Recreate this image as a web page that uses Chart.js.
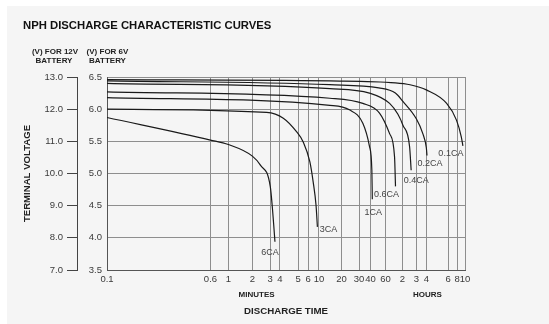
<!DOCTYPE html>
<html>
<head>
<meta charset="utf-8">
<title>NPH discharge characteristic curves</title>
<script src="https://cdn.jsdelivr.net/npm/chart.js@4.4.1/dist/chart.umd.min.js"></script>
<style>
  html, body { margin: 0; padding: 0; background: #fff; }
  canvas { display: block; }
</style>
</head>
<body>
<canvas id="nph" width="549" height="324"></canvas>
<script>
// discharge time ticks (minutes) and the labels printed under them
const TIME_TICKS = [0.1, 0.6, 1, 2, 3, 4, 5, 6, 10, 20, 30, 40, 60, 120, 180, 240, 360, 480, 600];
const TIME_LABELS = ['0.1', '0.6', '1', '2', '3', '4', '5', '6', '10', '20', '30', '40', '60', '2', '3', '4', '6', '8', '10'];

// terminal voltage ranges, 6V and 12V battery
const V6_RANGE = [3.5, 6.5];
const V12_RANGE = [7.0, 13.0];

const SERIES_NAMES = ['0.1CA', '0.2CA', '0.4CA', '0.6CA', '1CA', '3CA', '6CA'];

// time in minutes / voltage of a 6V battery
const T_01CA = [0.1, 14, 90, 150, 240, 350, 470, 540, 565];
const V_01CA = [6.46, 6.44, 6.41, 6.38, 6.30, 6.09, 5.83, 5.57, 5.43];
const T_02CA = [0.1, 14, 50, 90, 122, 180, 217, 240, 243];
const V_02CA = [6.44, 6.38, 6.33, 6.25, 6.12, 5.85, 5.62, 5.40, 5.28];
const T_04CA = [0.1, 14, 39, 71, 100, 122, 148, 155];
const V_04CA = [6.40, 6.32, 6.25, 6.09, 5.92, 5.75, 5.42, 5.05];
const T_06CA = [0.1, 14, 33, 51, 71, 87, 90.5];
const V_06CA = [6.27, 6.17, 6.09, 5.94, 5.62, 5.26, 4.80];
const T_1CA = [0.1, 14, 24, 33, 39, 41.5, 42];
const V_1CA = [6.18, 6.06, 5.99, 5.78, 5.42, 5.05, 4.60];
const T_3CA = [0.1, 2.76, 4.17, 4.9, 5.48, 6.5, 7.6, 8.7, 9.3];
const V_3CA = [6.00, 5.95, 5.86, 5.65, 5.49, 5.18, 4.87, 4.51, 4.17];
const T_6CA = [0.1, 0.6, 1, 2, 2.4, 3.0, 3.2, 3.35, 3.45];
const V_6CA = [5.87, 5.52, 5.45, 5.27, 5.13, 4.80, 4.46, 4.15, 3.94];

const SERIES_T = [T_01CA, T_02CA, T_04CA, T_06CA, T_1CA, T_3CA, T_6CA];
const SERIES_V = [V_01CA, V_02CA, V_04CA, V_06CA, V_1CA, V_3CA, V_6CA];

// where each curve name sits relative to the curve's last point (px)
const LABEL_OFFSETS = [[-12, 8], [3, 8], [5, 10], [-9, 8], [1, 13], [11, 3], [-5, 11]];

const FONT = "'Liberation Sans', Arial, Helvetica, sans-serif";
Chart.defaults.font.family = FONT;
Chart.defaults.color = '#3a3a3a';

// The printed time axis is hand made, not a true log axis: every tick has its
// own place along the axis, and values in between are log interpolated.
const TIME_AXIS_STOPS = [0, .289, .339, .406, .456, .483, .534, .562, .592, .655,
  .704, .736, .778, .825, .864, .892, .953, .978, 1];

class DischargeTimeScale extends Chart.LinearScale {
  determineDataLimits() {
    this.min = TIME_TICKS[0];
    this.max = TIME_TICKS[TIME_TICKS.length - 1];
  }
  buildTicks() {
    return TIME_TICKS.map(value => ({ value }));
  }
  getPixelForValue(value) {
    const n = TIME_TICKS.length;
    let f;
    if (value <= TIME_TICKS[0]) f = 0;
    else if (value >= TIME_TICKS[n - 1]) f = 1;
    else {
      let i = 0;
      while (value > TIME_TICKS[i + 1]) i++;
      const a = TIME_TICKS[i], b = TIME_TICKS[i + 1];
      const k = Math.log(value / a) / Math.log(b / a);
      f = TIME_AXIS_STOPS[i] + (TIME_AXIS_STOPS[i + 1] - TIME_AXIS_STOPS[i]) * k;
    }
    return this.getPixelForDecimal(f);
  }
  getValueForPixel(pixel) {
    const f = this.getDecimalForPixel(pixel);
    let i = 0;
    while (i < TIME_AXIS_STOPS.length - 2 && f > TIME_AXIS_STOPS[i + 1]) i++;
    const a = TIME_TICKS[i], b = TIME_TICKS[i + 1];
    const k = (f - TIME_AXIS_STOPS[i]) / (TIME_AXIS_STOPS[i + 1] - TIME_AXIS_STOPS[i]);
    return a * Math.pow(b / a, k);
  }
}
DischargeTimeScale.id = 'dischargeTime';
DischargeTimeScale.defaults = {};
Chart.register(DischargeTimeScale);

// background panel and the loose texts around the grid
const paperPlugin = {
  id: 'paper',
  beforeDraw(chart) {
    const ctx = chart.ctx;
    ctx.save();
    ctx.fillStyle = '#ffffff';
    ctx.fillRect(0, 0, chart.width, chart.height);
    ctx.fillStyle = '#f5f5f5';
    ctx.fillRect(7, 6, chart.width - 7, chart.height - 6);
    ctx.restore();
  },
  afterDraw(chart) {
    const ctx = chart.ctx;
    const x = chart.scales.x;
    ctx.save();
    ctx.fillStyle = '#111';
    ctx.textBaseline = 'middle';
    ctx.textAlign = 'left';
    ctx.font = 'bold 11.3px ' + FONT;
    ctx.fillText('NPH DISCHARGE CHARACTERISTIC CURVES', 23, 26);

    ctx.fillStyle = '#222';
    ctx.textAlign = 'center';
    ctx.font = 'bold 8px ' + FONT;
    ctx.fillText('(V) FOR 12V', 55, 52);
    ctx.fillText('BATTERY', 54, 61);
    ctx.fillText('(V) FOR 6V', 107.5, 52);
    ctx.fillText('BATTERY', 107.5, 61);
    ctx.fillText('MINUTES', x.getPixelForValue(2.2), 295);
    ctx.fillText('HOURS', x.getPixelForValue(245), 295);

    ctx.fillStyle = '#444';
    ctx.font = '9px ' + FONT;
    chart.data.datasets.forEach((ds, i) => {
      const pts = chart.getDatasetMeta(i).data;
      const end = pts[pts.length - 1];
      ctx.fillText(ds.label, end.x + LABEL_OFFSETS[i][0], end.y + LABEL_OFFSETS[i][1]);
    });
    ctx.restore();
  }
};

const datasets = SERIES_NAMES.map((name, i) => ({
  label: name,
  data: SERIES_T[i].map((t, j) => ({ x: t, y: SERIES_V[i][j] })),
  yAxisID: 'y',
  borderColor: '#1a1a1a',
  borderWidth: 1.2,
  pointRadius: 0,
  fill: false,
  cubicInterpolationMode: 'monotone'
}));

new Chart(document.getElementById('nph'), {
  type: 'line',
  data: { datasets },
  options: {
    responsive: false,
    animation: false,
    devicePixelRatio: 1,
    layout: { padding: { left: 20, right: 84, top: 77, bottom: 0 } },
    plugins: { legend: { display: false }, tooltip: { enabled: false }, title: { display: false } },
    scales: {
      x: {
        type: 'dischargeTime',
        position: 'bottom',
        grid: { color: '#8e8e8e', lineWidth: 1, drawTicks: false },
        border: { display: true, color: '#555', width: 1 },
        ticks: {
          autoSkip: false,
          maxRotation: 0,
          padding: 4,
          font: { size: 9.5 },
          callback: (v, i) => TIME_LABELS[i]
        },
        title: {
          display: true,
          text: 'DISCHARGE TIME',
          color: '#222',
          font: { size: 9.7, weight: 'bold' },
          padding: { top: 0, bottom: 6.6 }
        },
        afterFit: s => { s.height = 54; }
      },
      y: {
        position: 'left',
        weight: 0,
        min: V6_RANGE[0],
        max: V6_RANGE[1],
        grid: { color: '#8e8e8e', lineWidth: 1, drawTicks: false },
        border: { display: true, color: '#555', width: 1 },
        ticks: {
          stepSize: 0.5,
          padding: 5,
          font: { size: 9.5 },
          callback: v => v.toFixed(1)
        },
        afterFit: s => { s.width = 30; }
      },
      y12: {
        position: 'left',
        weight: 1,
        min: V12_RANGE[0],
        max: V12_RANGE[1],
        grid: { drawOnChartArea: false, drawTicks: true, tickLength: 10, color: '#444', lineWidth: 1 },
        border: { display: true, color: '#444', width: 1 },
        ticks: {
          stepSize: 1,
          padding: 4,
          font: { size: 9.5 },
          callback: v => v.toFixed(1)
        },
        title: {
          display: true,
          text: 'TERMINAL VOLTAGE',
          color: '#222',
          font: { size: 9.6, weight: 'bold' },
          padding: { top: 2, bottom: 0 }
        },
        afterFit: s => { s.width = 57; }
      }
    }
  },
  plugins: [paperPlugin]
});
</script>
</body>
</html>
